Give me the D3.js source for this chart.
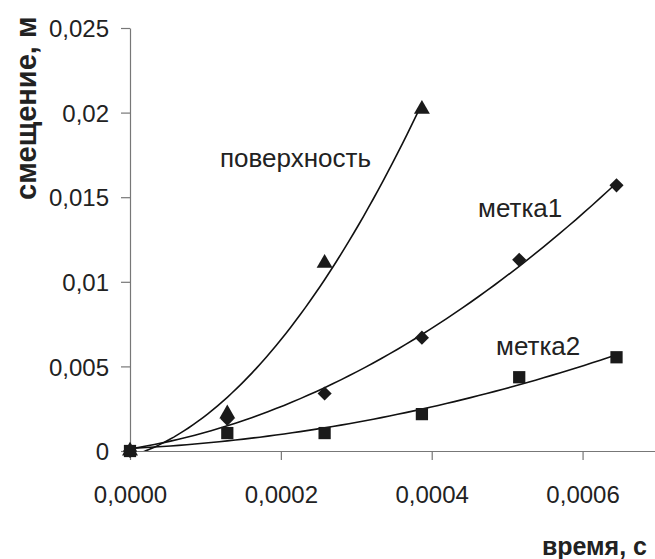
<!DOCTYPE html>
<html>
<head>
<meta charset="utf-8">
<script src="https://cdn.jsdelivr.net/npm/d3@7"></script>
<style>
  body { margin: 0; background: #fff; }
  svg { display: block; font-family: "Liberation Sans", Arial, sans-serif; }
</style>
</head>
<body>
<svg id="chart" width="655" height="559"></svg>
<script>
// time, s
const times = [0, 0.000129, 0.000258, 0.000387, 0.000516, 0.000645];
// displacement, m
const surface = [0, 0.0022, 0.0111, 0.0202];
const mark1 = [0, 0.0019, 0.0034, 0.0067, 0.0113, 0.0157];
const mark2 = [0, 0.00106, 0.00106, 0.00218, 0.00436, 0.00554];

const xTicks = [0, 0.0002, 0.0004, 0.0006];
const xTickLabels = ['0,0000', '0,0002', '0,0004', '0,0006'];
const yTicks = [0, 0.005, 0.01, 0.015, 0.02, 0.025];
const yTickLabels = ['0', '0,005', '0,01', '0,015', '0,02', '0,025'];

const seriesNames = ['поверхность', 'метка1', 'метка2'];

const svg = d3.select('#chart');
const plotLeft = 130, plotBottom = 451, plotTop = 28, plotRight = 658;

const x = d3.scaleLinear().domain([0, 0.0007]).range([plotLeft, plotRight]);
const y = d3.scaleLinear().domain([0, 0.025]).range([plotBottom, plotTop]);

// quadratic least squares, like the excel trendline
function polyFit(xs, ys) {
  const s = xs.map(v => v * 1000);
  let S = [0, 0, 0, 0, 0], T = [0, 0, 0];
  s.forEach((v, i) => {
    for (let k = 0; k < 5; k++) S[k] += Math.pow(v, k);
    for (let k = 0; k < 3; k++) T[k] += ys[i] * Math.pow(v, k);
  });
  const A = [[S[0], S[1], S[2], T[0]], [S[1], S[2], S[3], T[1]], [S[2], S[3], S[4], T[2]]];
  for (let i = 0; i < 3; i++) {
    for (let j = i + 1; j < 3; j++) {
      const f = A[j][i] / A[i][i];
      for (let k = i; k < 4; k++) A[j][k] -= f * A[i][k];
    }
  }
  const c = [0, 0, 0];
  for (let i = 2; i >= 0; i--) {
    let sum = A[i][3];
    for (let k = i + 1; k < 3; k++) sum -= A[i][k] * c[k];
    c[i] = sum / A[i][i];
  }
  return t => c[0] + c[1] * t * 1000 + c[2] * Math.pow(t * 1000, 2);
}

svg.append('clipPath').attr('id', 'plot')
  .append('rect').attr('x', plotLeft).attr('y', plotTop)
  .attr('width', plotRight - plotLeft).attr('height', plotBottom - plotTop);

// axes
const yAxis = svg.append('g')
  .attr('transform', 'translate(' + plotLeft + ',0)')
  .call(d3.axisLeft(y).tickValues(yTicks).tickFormat((d, i) => yTickLabels[i]).tickSize(9).tickPadding(12).tickSizeOuter(0));

const xAxis = svg.append('g')
  .attr('transform', 'translate(0,' + plotBottom + ')')
  .call(d3.axisBottom(x).tickValues(xTicks).tickFormat((d, i) => xTickLabels[i]).tickSize(9).tickPadding(26).tickSizeOuter(0));

[yAxis, xAxis].forEach(a => {
  a.select('.domain').attr('stroke', '#777').attr('stroke-width', 1.2);
  a.selectAll('.tick line').attr('stroke', '#777').attr('stroke-width', 1.2);
  a.selectAll('.tick text').attr('fill', '#222').style('font-size', '24px');
});
yAxis.selectAll('.tick text').attr('dy', '0.36em');

// trend lines
const series = [
  {name: seriesNames[0], values: surface, marker: d3.symbolTriangle, size: 110, rot: 0},
  {name: seriesNames[1], values: mark1, marker: d3.symbolSquare, size: 100, rot: 45},
  {name: seriesNames[2], values: mark2, marker: d3.symbolSquare, size: 150, rot: 0}
];

const lines = svg.append('g').attr('clip-path', 'url(#plot)');
series.forEach(s => {
  const xs = times.slice(0, s.values.length);
  const f = polyFit(xs, s.values);
  const tMax = xs[xs.length - 1];
  const pts = d3.range(0, 61).map(i => tMax * i / 60);
  lines.append('path')
    .datum(pts)
    .attr('fill', 'none')
    .attr('stroke', '#111')
    .attr('stroke-width', 1.6)
    .attr('d', d3.line().x(t => x(t)).y(t => y(f(t))));
});

series.forEach(s => {
  svg.append('g').selectAll('path')
    .data(s.values)
    .join('path')
    .attr('transform', (d, i) => 'translate(' + x(times[i]) + ',' + y(d) + ') rotate(' + s.rot + ')')
    .attr('d', d3.symbol().type(s.marker).size(s.size))
    .attr('fill', '#1a1a1a');
});

// series labels
const labelPos = [[220, 167], [478, 217], [496, 355]];
svg.append('g').selectAll('text')
  .data(seriesNames)
  .join('text')
  .attr('x', (d, i) => labelPos[i][0])
  .attr('y', (d, i) => labelPos[i][1])
  .attr('fill', '#222')
  .style('font-size', '26px')
  .text(d => d);

// axis titles
svg.append('text')
  .attr('transform', 'translate(36,200) rotate(-90)')
  .attr('fill', '#222')
  .style('font-size', '29px')
  .style('font-weight', 'bold')
  .text('смещение, м');

svg.append('text')
  .attr('x', 647)
  .attr('y', 555)
  .attr('text-anchor', 'end')
  .attr('fill', '#222')
  .style('font-size', '25px')
  .style('font-weight', 'bold')
  .text('время, с');
</script>
</body>
</html>
